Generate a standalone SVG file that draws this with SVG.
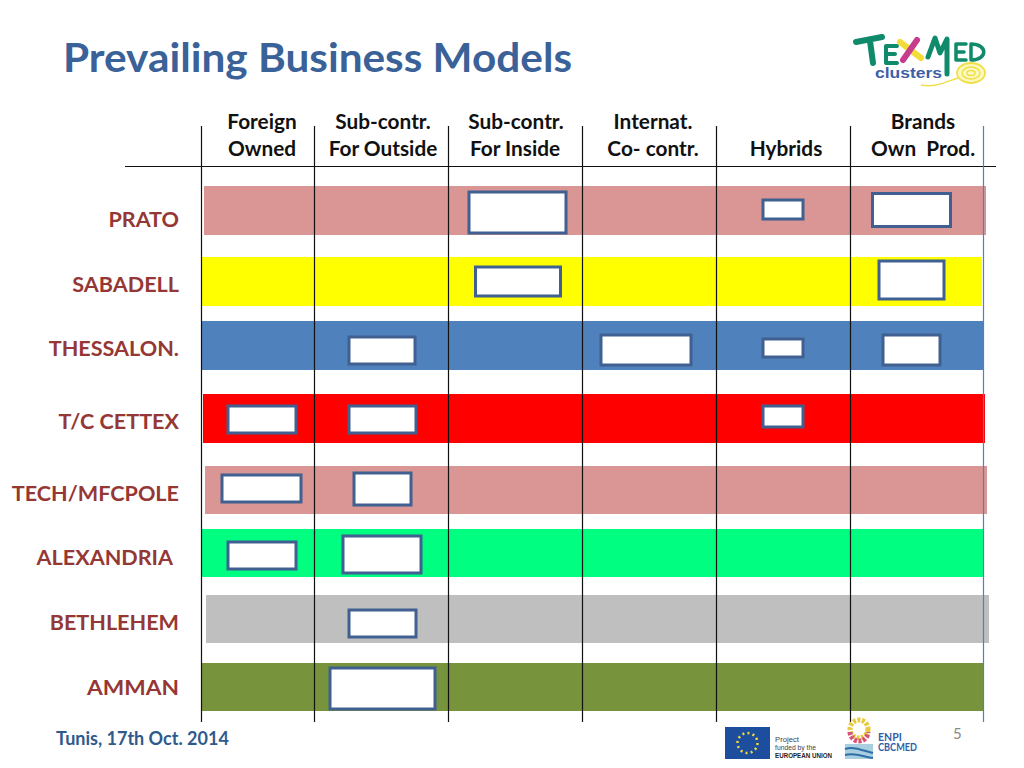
<svg xmlns="http://www.w3.org/2000/svg" width="1024" height="768" viewBox="0 0 1024 768">
<style>
text{font-family:Lato,Carlito,"Open Sans",sans-serif;font-weight:700}
.h{font-size:20.800px;fill:#111;text-anchor:middle}
.r{font-size:21.600px;fill:#953735;text-anchor:end}
.b{fill:#fff;stroke:#3f6090;stroke-width:3}
.l{stroke:#111;stroke-width:1.200;fill:none}
.s{fill:none;stroke:#0f8a6a;stroke-linecap:round;stroke-linejoin:round}
.n{font-family:"Liberation Sans",sans-serif;font-weight:400;fill:#444;font-size:7.500px}
</style>
<rect width="1024" height="768" fill="#fff"/>
<text id="title" x="63" y="72" font-size="41" fill="#3a6298" textLength="509" lengthAdjust="spacingAndGlyphs">Prevailing Business Models</text>
<g id="logo-texmed">
<path class="s" d="M856 42L882 37M870 41L873 63" stroke-width="6"/>
<path class="s" d="M897 46H886V63H897M887 54H895" stroke-width="4"/>
<path d="M900 42L921 58" stroke="#f2dc3a" stroke-width="6" stroke-linecap="round"/>
<path d="M917 40L903 60" stroke="#c83c8c" stroke-width="6" stroke-linecap="round"/>
<path class="s" d="M928 57L935 38L940 53L947 39L947 74" stroke-width="5"/>
<path class="s" d="M966 44H956V60H966M957 52H964" stroke-width="3.500"/>
<path class="s" d="M971 44V60C988 60 988 44 971 44Z" stroke-width="3.500"/>
<text x="875" y="78" font-size="15.500" fill="#3f60a8" style="font-family:'Liberation Sans',sans-serif" textLength="67" lengthAdjust="spacingAndGlyphs">clusters</text>
<ellipse cx="971" cy="73" rx="14" ry="10" fill="#fdf8c0" stroke="#efe04a" stroke-width="1.800"/>
<ellipse cx="971" cy="73" rx="9" ry="6" fill="none" stroke="#efe04a" stroke-width="1.500"/>
<ellipse cx="971" cy="73" rx="4" ry="2.500" fill="none" stroke="#efe04a" stroke-width="1.500"/>
<path d="M958 78C945 82 935 88 921 85" fill="none" stroke="#efe04a" stroke-width="1.500"/>
</g>
<g id="header-foreign"><text class="h" x="262" y="129">Foreign</text><text class="h" x="262" y="156">Owned</text></g>
<g id="header-outside"><text class="h" x="383" y="129">Sub-contr.</text><text class="h" x="383" y="156">For Outside</text></g>
<g id="header-inside"><text class="h" x="516" y="129">Sub-contr.</text><text class="h" x="515" y="156">For Inside</text></g>
<g id="header-internat"><text class="h" x="653" y="129">Internat.</text><text class="h" x="653" y="156">Co- contr.</text></g>
<g id="header-hybrids"><text class="h" x="786" y="156">Hybrids</text></g>
<g id="header-brands"><text class="h" x="923" y="129">Brands</text><text class="h" x="923" y="156" xml:space="preserve">Own  Prod.</text></g>
<g id="row-prato">
<rect x="204" y="186" width="782" height="49" fill="#d99694"/>
<text class="r" x="179" y="227">PRATO</text>
<rect class="b" x="469" y="192" width="97" height="41"/><rect class="b" x="763" y="200" width="40" height="19"/><rect class="b" x="872.500" y="193.500" width="78" height="33"/>
</g>
<g id="row-sabadell">
<rect x="202" y="257" width="780" height="49" fill="#ffff00"/>
<text class="r" x="179" y="291.500">SABADELL</text>
<rect class="b" x="475.500" y="267" width="85" height="29"/><rect class="b" x="879" y="261" width="65" height="38"/>
</g>
<g id="row-thessalon">
<rect x="201" y="321" width="782" height="49" fill="#4f81bd"/>
<text class="r" x="179" y="356">THESSALON.</text>
<rect class="b" x="349" y="337" width="66" height="27"/><rect class="b" x="601" y="335" width="90" height="30"/><rect class="b" x="763" y="339" width="40" height="18"/><rect class="b" x="883" y="335" width="57" height="30"/>
</g>
<g id="row-cettex">
<rect x="203" y="394" width="782" height="49" fill="#ff0000"/>
<text class="r" x="179" y="429">T/C CETTEX</text>
<rect class="b" x="228" y="406" width="68" height="27"/><rect class="b" x="349" y="406" width="67" height="27"/><rect class="b" x="763" y="406" width="40" height="21"/>
</g>
<g id="row-tech">
<rect x="205" y="466" width="782" height="48" fill="#d99694"/>
<text class="r" x="179" y="501">TECH/MFCPOLE</text>
<rect class="b" x="222" y="475" width="79" height="27"/><rect class="b" x="354" y="473" width="57" height="32"/>
</g>
<g id="row-alexandria">
<rect x="201" y="529" width="783" height="48" fill="#00ff80"/>
<text class="r" x="173" y="565">ALEXANDRIA</text>
<rect class="b" x="228" y="542" width="68" height="27"/><rect class="b" x="343" y="536" width="78" height="37"/>
</g>
<g id="row-bethlehem">
<rect x="206" y="595" width="783" height="48" fill="#bfbfbf"/>
<text class="r" x="179" y="630">BETHLEHEM</text>
<rect class="b" x="349" y="610" width="67" height="27"/>
</g>
<g id="row-amman">
<rect x="201" y="663" width="782" height="48" fill="#77933c"/>
<text class="r" x="179" y="695" textLength="92" lengthAdjust="spacingAndGlyphs">AMMAN</text>
<rect class="b" x="330" y="668" width="105" height="41"/>
</g>
<g id="connectors">
<path class="l" d="M125 166.500H996M201.500 126V722M314.500 126V722M448.500 126V722M582.500 126V722M716.500 126V722M850.500 126V722"/>
<path d="M983.500 126V722" fill="none" stroke="#4f81bd" stroke-width="1.200"/>
</g>
<g id="footer">
<text x="56" y="745" font-size="18" fill="#2f5a8c">Tunis, 17th Oct. 2014</text>
<text x="953" y="739" font-size="15" fill="#8a8a8a" style="font-weight:400">5</text>
</g>
<g id="logo-eu">
<rect x="725" y="727" width="45" height="32" fill="#1d4e9e"/>
<circle cx="747.500" cy="743" r="10" fill="none" stroke="#f4d93a" stroke-width="2.500" stroke-dasharray="2 3.200"/>
<text class="n" x="775" y="742" textLength="24" lengthAdjust="spacingAndGlyphs">Project</text>
<text class="n" x="775" y="750" textLength="41" lengthAdjust="spacingAndGlyphs">funded by the</text>
<text class="n" x="775" y="758" textLength="57" lengthAdjust="spacingAndGlyphs" style="font-weight:700;fill:#222">EUROPEAN UNION</text>
</g>
<g id="logo-enpi">
<circle cx="859" cy="729" r="9" fill="none" stroke="#e8c93a" stroke-width="5" stroke-dasharray="3 1.500"/>
<path d="M850 732a9 9 0 0 0 18 0" fill="none" stroke="#d9527c" stroke-width="5" stroke-dasharray="3 1.500"/>
<rect x="845" y="744" width="28" height="15" fill="#a8cfe0"/>
<path d="M845 749C855 746 864 751 873 753M845 755C855 752 864 757 873 758" fill="none" stroke="#2f6fa8" stroke-width="2"/>
<text x="878" y="741" font-size="10.500" fill="#2f5fa8">ENPI</text>
<text x="878" y="751" font-size="10.500" fill="#2f5fa8" textLength="39" lengthAdjust="spacingAndGlyphs">CBCMED</text>
</g>
</svg>
